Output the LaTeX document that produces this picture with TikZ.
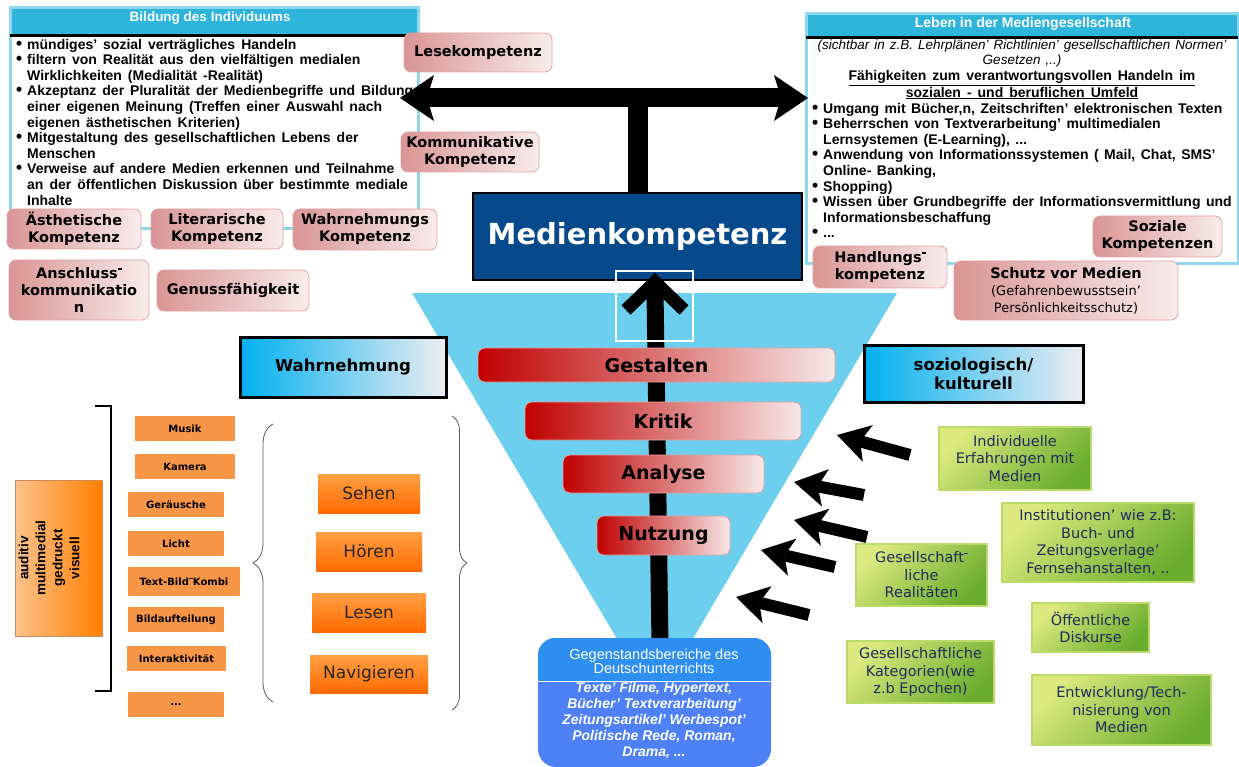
\documentclass[tikz,border=0pt]{standalone}
\usepackage{fontspec}
\setmainfont{Liberation Sans}
\newfontfamily\dejavu{DejaVu Sans}
\usepackage{tikz}
\usetikzlibrary{arrows.meta,decorations.pathreplacing}

\definecolor{hdrcyan}{HTML}{2FB4DC}
\definecolor{boxline}{HTML}{8DD7EF}
\definecolor{roseL}{HTML}{D99594}
\definecolor{roseR}{HTML}{F8ECEC}
\definecolor{roseline}{HTML}{E3A3A3}
\definecolor{mkblue}{HTML}{064A8C}
\definecolor{funnel}{HTML}{6CCFEE}
\definecolor{redL}{HTML}{C00000}
\definecolor{redR}{HTML}{F7E8E8}
\definecolor{cyanL}{HTML}{00B0F0}
\definecolor{grayR}{HTML}{EEEEF0}
\definecolor{orsmall}{HTML}{F79646}
\definecolor{orL}{HTML}{FDC28C}
\definecolor{orR}{HTML}{FF8000}
\definecolor{orline}{HTML}{C88A58}
\definecolor{orTop}{HTML}{FFA044}
\definecolor{orBot}{HTML}{FF6A00}
\definecolor{gegTop}{HTML}{2E8FF0}
\definecolor{gegBot}{HTML}{4E80F6}
\definecolor{grnL}{HTML}{DCE97E}
\definecolor{grnD}{HTML}{6AAD2E}
\definecolor{grnline}{HTML}{BADB6A}
\definecolor{navytext}{HTML}{1F2A5C}

\newcommand{\bul}{\makebox[0pt][r]{\smash{\scalebox{1.25}{\textbullet}}\hspace{5pt}}}
\newcommand{\updash}{\raisebox{0.62em}{\rule{4pt}{1.2pt}}}
\newcommand{\widesp}[1]{\spaceskip=#1 plus 1pt minus 0.5pt\relax}

\begin{document}
\begin{tikzpicture}[x=1pt,y=-1pt,
  wh/.style 2 args={minimum width=#1pt,minimum height=#2pt},
  rosebox/.style={rounded corners=7pt,draw=roseline,line width=0.8pt,left color=roseL,right color=roseR,
    font=\dejavu\bfseries\fontsize{14.5}{17}\selectfont,align=center,inner sep=0pt},
  redbar/.style={rounded corners=7pt,draw=roseline,line width=0.8pt,left color=redL,right color=redR,
    font=\dejavu\bfseries\fontsize{19}{21}\selectfont,inner sep=0pt},
  graybox/.style={draw=black,line width=3pt,left color=cyanL,right color=grayR,
    font=\dejavu\bfseries\fontsize{16.5}{19}\selectfont,align=center,inner sep=0pt},
  smallor/.style={fill=orsmall,font=\dejavu\bfseries\fontsize{10}{12}\selectfont,inner sep=0pt},
  bigor/.style={top color=orTop,bottom color=orBot,text=black!85,font=\dejavu\fontsize{17}{19}\selectfont,inner sep=0pt},
  grnbox/.style={draw=grnline,line width=1.5pt,top color=grnL,bottom color=grnD,shading angle=45,
    text=navytext,font=\dejavu\fontsize{14.5}{17.5}\selectfont,align=center,inner sep=0pt},
  tbar/.style={line width=19pt,-{Stealth[length=34pt,width=46pt,inset=7pt,line width=0pt]}},
  bigarrow/.style={line width=12pt,-{Stealth[length=32pt,width=38pt,inset=8pt,line width=0pt]}},
  brace/.style={decorate,decoration={brace,amplitude=#1},draw=black!65,line width=0.8pt}]

\useasboundingbox (0,0) rectangle (1239,767);

% Bildung des Individuums
\node [name=bildung,draw=boxline,line width=3pt,wh={408}{221},inner sep=0pt] at (214,118.5) {};
\fill [hdrcyan] (11.5,9.5) rectangle (416.5,34);
\draw [line width=2.5pt] (10,35.5) -- (418,35.5);
\node [name=bildungtitle,text=white,font=\bfseries\fontsize{13.5}{15}\selectfont] at (210,18) {Bildung des Individuums};
\node [name=bildungtext,anchor=west,align=left,inner sep=0pt,
  font=\bfseries\fontsize{14}{15.6}\selectfont\widesp{6pt}] at (27,122)
  {\bul mündiges’ sozial verträgliches Handeln\\
   \bul filtern von Realität aus den vielfältigen medialen\\
   Wirklichkeiten (Medialität -Realität)\\
   \bul Akzeptanz der Pluralität der Medienbegriffe und Bildung\\
   einer eigenen Meinung (Treffen einer Auswahl nach\\
   eigenen ästhetischen Kriterien)\\
   \bul Mitgestaltung des gesellschaftlichen Lebens der\\
   Menschen\\
   \bul Verweise auf andere Medien erkennen und Teilnahme\\
   an der öffentlichen Diskussion über bestimmte mediale\\
   Inhalte};

% Leben in der Mediengesellschaft
\node [name=leben,draw=boxline,line width=3pt,wh={432}{250},inner sep=0pt] at (1022,139) {};
\fill [hdrcyan] (807.5,15.5) rectangle (1236.5,36);
\draw [line width=2.5pt] (806,37.5) -- (1238,37.5);
\node [name=lebentitle,text=white,font=\bfseries\fontsize{14}{15}\selectfont] at (1023,24) {Leben in der Mediengesellschaft};
\node [name=lebenintro,align=center,inner sep=0pt,font=\itshape\fontsize{13.5}{15}\selectfont\widesp{5pt}] at (1022,53.5)
  {(sichtbar in z.B. Lehrplänen’ Richtlinien’ gesellschaftlichen Normen’\\Gesetzen ,..)};
\node [name=lebenhead,align=center,inner sep=0pt,font=\bfseries\fontsize{14}{14}\selectfont\widesp{6pt}] at (1022,85)
  {\underline{Fähigkeiten zum verantwortungsvollen Handeln im}\\\underline{sozialen - und beruflichen Umfeld}};
\node [name=lebentext,anchor=west,align=left,inner sep=0pt,
  font=\bfseries\fontsize{14}{15.6}\selectfont\widesp{5.5pt}] at (823,170.5)
  {\bul Umgang mit Bücher,n, Zeitschriften’ elektronischen Texten\\
   \bul Beherrschen von Textverarbeitung’ multimedialen\\
   Lernsystemen (E-Learning), ...\\
   \bul Anwendung von Informationssystemen ( Mail, Chat, SMS’\\
   Online- Banking,\\
   \bul Shopping)\\
   \bul Wissen über Grundbegriffe der Informationsvermittlung und\\
   Informationsbeschaffung\\
   \bul ...};

% Trichter
\fill [funnel] (412,293) -- (897,293) -- (655,703) -- cycle;

\node [name=mk,fill=mkblue,draw=black,line width=2.5pt,wh={329}{87},inner sep=0pt,text=white,
  font=\dejavu\bfseries\fontsize{29}{32}\selectfont] at (637.5,236.5) {Medienkompetenz};

\coordinate (tjoint) at (637.5,98);
\coordinate (tleft) at (400,98);
\coordinate (tright) at (808,98);
\draw [line width=20pt] (mk.north) -- (tjoint);
\draw [tbar] (tjoint) -- (tleft);
\draw [tbar] (tjoint) -- (tright);

\coordinate (upbase) at (660,645);
\coordinate (uptop) at (655,290);
\draw [line width=17pt] (upbase) -- (uptop);
\draw [line width=13pt,line join=miter] (626,310) -- (655,282) -- (684,310);
\draw [white,line width=2pt] (616,271) rectangle (693,341);

\node [name=gest,redbar,wh={357}{34}] at (656.5,365) {Gestalten};
\node [name=krit,redbar,wh={276}{38}] at (663,421) {Kritik};
\node [name=analy,redbar,wh={201}{38}] at (663.5,474) {Analyse};
\node [name=nutz,redbar,wh={133}{39}] at (663.5,535.5) {Nutzung};

% Kompetenzen
\node [name=lese,rosebox,wh={148}{39}] at (478,52.5) {Lesekompetenz};
\node [name=kommu,rosebox,wh={138}{40}] at (470,152) {Kommunikative\\Kompetenz};
\node [name=aesth,rosebox,wh={134}{40}] at (74,229) {Ästhetische\\Kompetenz};
\node [name=liter,rosebox,wh={132}{40}] at (217,229) {Literarische\\Kompetenz};
\node [name=wahrk,rosebox,wh={144}{41}] at (365,229.5) {Wahrnehmungs\\Kompetenz};
\node [name=ansch,rosebox,wh={140}{60}] at (79,290) {Anschluss\updash\\kommunikatio\\n};
\node [name=genuss,rosebox,wh={152}{41}] at (233,290.5) {Genussfähigkeit};
\node [name=handl,rosebox,wh={134}{42}] at (880,267) {Handlungs\updash\\kompetenz};
\node [name=schutz,rosebox,wh={224}{59}] at (1066,290.5)
  {Schutz vor Medien\\{\mdseries\fontsize{13}{15}\selectfont(Gefahrenbewusstsein’}\\{\mdseries\fontsize{13}{15}\selectfont Persönlichkeitsschutz)}};
\node [name=sozial,rosebox,wh={129}{41}] at (1157.5,236.5) {Soziale\\Kompetenzen};

\node [name=wahrn,graybox,wh={206}{60}] at (343,367) {Wahrnehmung};
\node [name=soziol,graybox,wh={219}{57}] at (973.5,373.5) {soziologisch/\\kulturell};

% Medien und Sinne
\draw [line width=2pt] (95,406) -- (111,406) -- (111,691) -- (95,691);
\node [name=modus,left color=orL,right color=orR,draw=orline,line width=1pt,wh={87}{156}] at (58.5,558) {};
\node [name=modustext,rotate=90,align=center,inner sep=0pt,font=\bfseries\fontsize{13.5}{17}\selectfont] at (49,558)
  {auditiv\\multimedial\\gedruckt\\visuell};

\node [name=musik,smallor,wh={100}{25}] at (185,428.5) {Musik};
\node [name=kamera,smallor,wh={100}{25}] at (185,466.5) {Kamera};
\node [name=geraeusche,smallor,wh={96}{25}] at (176,504.5) {Geräusche};
\node [name=licht,smallor,wh={96}{25}] at (176,543.5) {Licht};
\node [name=textbild,smallor,wh={112}{29}] at (184,581.5) {Text-Bild\updash Kombi};
\node [name=bildauf,smallor,wh={96}{25}] at (176,619.5) {Bildaufteilung};
\node [name=interakt,smallor,wh={99}{25}] at (176.5,658.5) {Interaktivität};
\node [name=weitere,smallor,wh={96}{25}] at (176,704.5) {...};

\draw [brace=20pt] (273,702) -- (273,424);
\draw [brace=15pt] (452,416) -- (452,710);

\node [name=sehen,bigor,wh={102}{39}] at (369,493.5) {Sehen};
\node [name=hoeren,bigor,wh={106}{39}] at (369,551.5) {Hören};
\node [name=lesen,bigor,wh={114}{39}] at (369,612.5) {Lesen};
\node [name=navig,bigor,wh={118}{38}] at (369,674) {Navigieren};

% Gegenstandsbereiche
\node [name=geg,fill=gegBot,rounded corners=18pt,wh={233}{129},inner sep=0pt] at (654.5,702.5) {};
\begin{scope}
  \clip (538,638) rectangle (771,681);
  \fill [gegTop,rounded corners=18pt] (geg.south west) rectangle (geg.north east);
\end{scope}
\draw [white,line width=1.5pt] (538,681.5) -- (771,681.5);
\node [name=gegtitle,align=center,inner sep=0pt,text=white,font=\fontsize{14.5}{13}\selectfont] at (654,661.5)
  {Gegenstandsbereiche des\\Deutschunterrichts};
\node [name=gegtext,align=center,inner sep=0pt,text=white,font=\bfseries\itshape\fontsize{14}{15.8}\selectfont] at (654,720.5)
  {Texte’ Filme, Hypertext,\\Bücher’ Textverarbeitung’\\Zeitungsartikel’ Werbespot’\\Politische Rede, Roman,\\Drama, ...};

% Einfluesse
\node [name=indiv,grnbox,wh={152}{63}] at (1015,458.5) {Individuelle\\Erfahrungen mit\\Medien};
\node [name=instit,grnbox,wh={192}{79}] at (1098,542.5) {Institutionen’ wie z.B:\\Buch- und\\Zeitungsverlage’\\Fernsehanstalten, ..};
\node [name=gesreal,grnbox,wh={131}{62}] at (921.5,575) {Gesellschaft\updash\\liche\\Realitäten};
\node [name=oeff,grnbox,wh={117}{49}] at (1090.5,627.5) {Öffentliche\\Diskurse};
\node [name=geskat,grnbox,wh={147}{62}] at (920.5,672) {Gesellschaftliche\\Kategorien(wie\\z.b Epochen)};
\node [name=entw,grnbox,wh={179}{70}] at (1121.5,710) {Entwicklung/Tech-\\nisierung von\\Medien};

\coordinate (a1) at (910,455);  \coordinate (h1) at (837,435);
\coordinate (a2) at (864,495);  \coordinate (h2) at (794,482);
\coordinate (a3) at (867,537);  \coordinate (h3) at (794,520);
\coordinate (a4) at (835,567);  \coordinate (h4) at (761,550);
\coordinate (a5) at (809,615);  \coordinate (h5) at (736,597);
\draw [bigarrow] (a1) -- (h1);
\draw [bigarrow] (a2) -- (h2);
\draw [bigarrow] (a3) -- (h3);
\draw [bigarrow] (a4) -- (h4);
\draw [bigarrow] (a5) -- (h5);
\end{tikzpicture}
\end{document}
